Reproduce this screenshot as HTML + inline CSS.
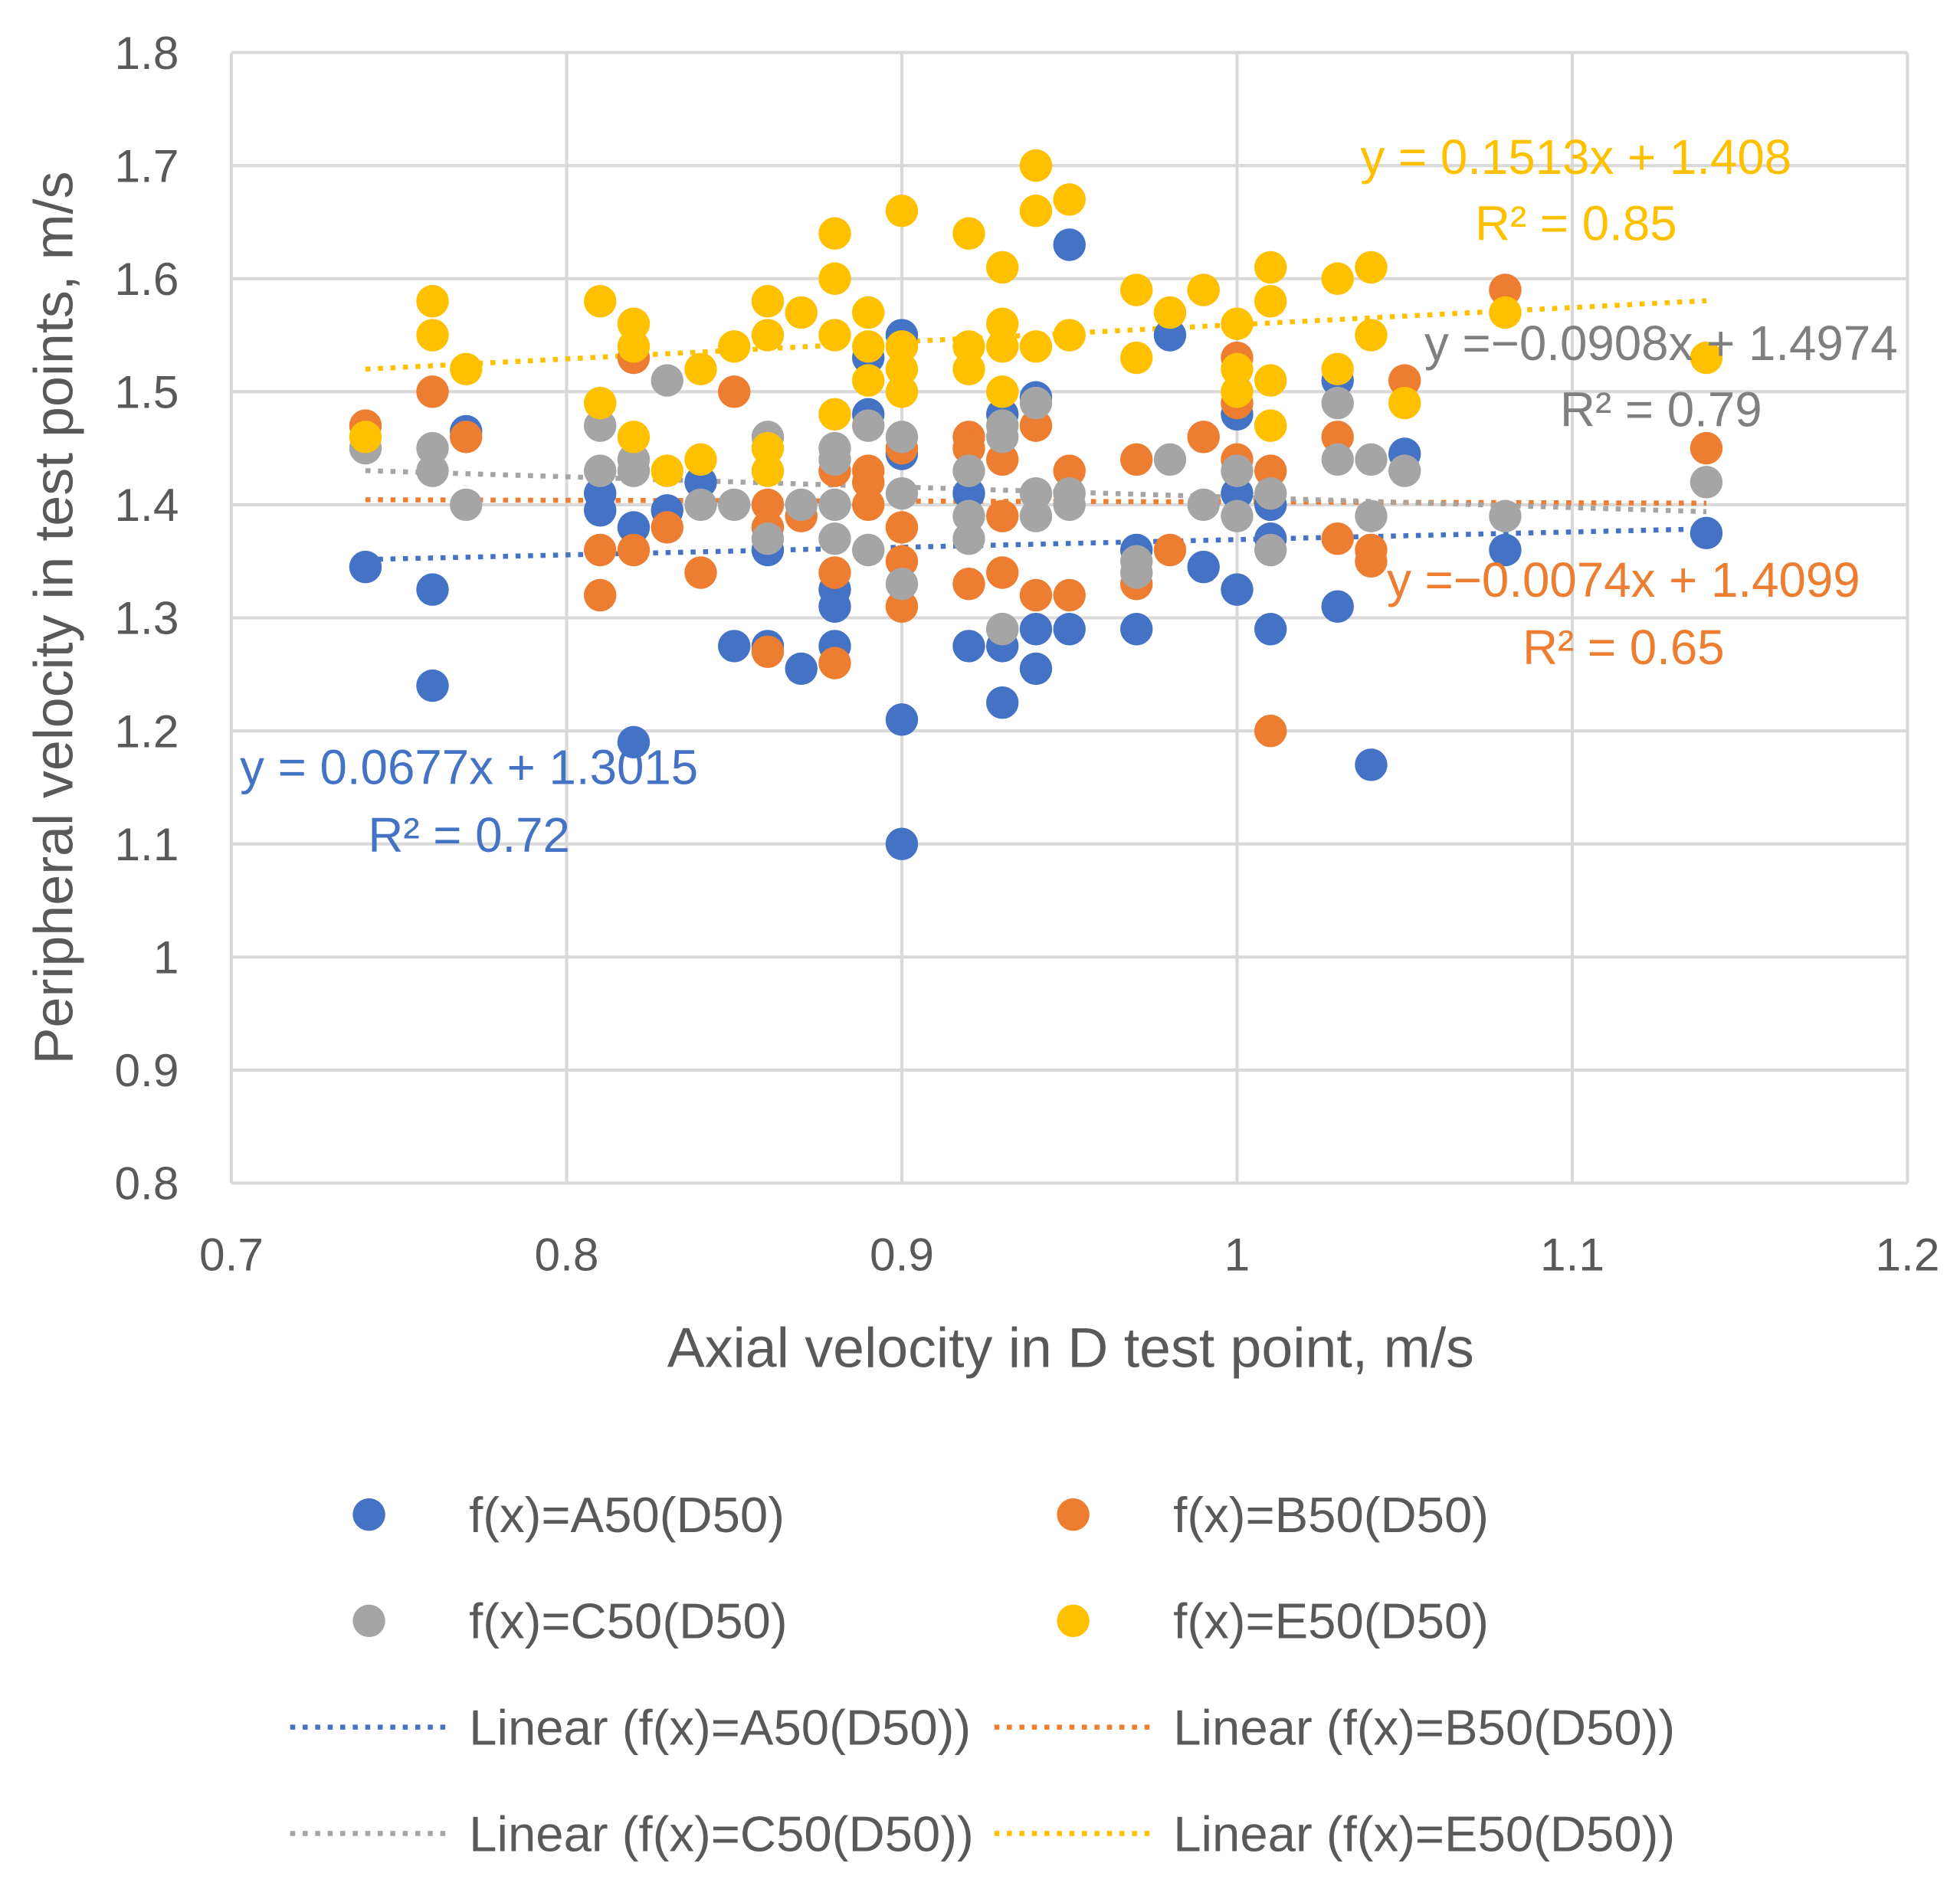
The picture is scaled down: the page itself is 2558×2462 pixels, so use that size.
<!DOCTYPE html>
<html><head><meta charset="utf-8"><style>
html,body{margin:0;padding:0;background:#fff;}
svg{display:block;font-family:"Liberation Sans",Calibri,sans-serif;}
</style></head><body>
<svg id="chart" width="2558" height="2462" viewBox="0 0 1567 1508" preserveAspectRatio="none" xmlns="http://www.w3.org/2000/svg">
<rect x="0" y="0" width="1567" height="1508" fill="#fff"/>
<g id="grid"></g>
<g id="trends"></g>
<g id="points"></g>
<g id="axes"></g>
<text x="856" y="1093" font-size="45" fill="#595959" text-anchor="middle">Axial velocity in D test point, m/s</text>
<text transform="translate(58,494) rotate(-90)" font-size="44" fill="#595959" text-anchor="middle">Peripheral velocity in test points, m/s</text>
<g font-size="39">
<text x="1260" y="139" fill="#FFC000" text-anchor="middle">y = 0.1513x + 1.408</text>
<text x="1260" y="192" fill="#FFC000" text-anchor="middle">R² = 0.85</text>
<text x="1328" y="288" fill="#7f7f7f" text-anchor="middle">y =−0.0908x + 1.4974</text>
<text x="1328" y="341" fill="#7f7f7f" text-anchor="middle">R² = 0.79</text>
<text x="1298" y="477" fill="#ED7D31" text-anchor="middle">y =−0.0074x + 1.4099</text>
<text x="1298" y="531" fill="#ED7D31" text-anchor="middle">R² = 0.65</text>
<text x="375" y="627" fill="#4472C4" text-anchor="middle">y = 0.0677x + 1.3015</text>
<text x="375" y="681" fill="#4472C4" text-anchor="middle">R² = 0.72</text>
</g>
<g id="legend" font-size="40" fill="#595959"></g>
</svg>
<script>
const xTicks=[0.7,0.8,0.9,1.0,1.1,1.2];
const xTickLabels=["0.7","0.8","0.9","1","1.1","1.2"];
const yTicks=[0.8,0.9,1.0,1.1,1.2,1.3,1.4,1.5,1.6,1.7,1.8];
const yTickLabels=["0.8","0.9","1","1.1","1.2","1.3","1.4","1.5","1.6","1.7","1.8"];
const seriesNames=["f(x)=A50(D50)","f(x)=B50(D50)","f(x)=C50(D50)","f(x)=E50(D50)"];
const seriesColors=["#4472C4","#ED7D31","#A5A5A5","#FFC000"];
const aX=[0.74,0.76,0.76,0.77,0.81,0.81,0.82,0.82,0.83,0.84,0.85,0.86,0.86,0.87,0.88,0.88,0.88,0.89,0.89,0.90,0.90,0.90,0.90,0.92,0.92,0.93,0.93,0.93,0.93,0.94,0.94,0.94,0.95,0.95,0.97,0.97,0.98,0.99,1.00,1.00,1.00,1.01,1.01,1.01,1.03,1.03,1.04,1.05,1.08,1.14];
const aY=[1.345,1.325,1.24,1.465,1.41,1.395,1.38,1.19,1.395,1.42,1.275,1.36,1.275,1.255,1.325,1.31,1.275,1.53,1.48,1.55,1.445,1.21,1.10,1.41,1.275,1.48,1.29,1.275,1.225,1.495,1.29,1.255,1.63,1.29,1.36,1.29,1.55,1.345,1.48,1.41,1.325,1.40,1.37,1.29,1.51,1.31,1.17,1.445,1.36,1.375];
const bX=[0.74,0.76,0.77,0.81,0.81,0.82,0.82,0.83,0.84,0.85,0.86,0.86,0.86,0.87,0.88,0.88,0.88,0.89,0.89,0.89,0.90,0.90,0.90,0.90,0.92,0.92,0.92,0.93,0.93,0.93,0.94,0.94,0.95,0.95,0.97,0.97,0.98,0.99,1.00,1.00,1.00,1.01,1.01,1.03,1.03,1.04,1.04,1.05,1.08,1.14];
const bY=[1.47,1.50,1.46,1.36,1.32,1.53,1.36,1.38,1.34,1.50,1.40,1.38,1.27,1.39,1.43,1.34,1.26,1.43,1.42,1.40,1.45,1.38,1.35,1.31,1.46,1.45,1.33,1.44,1.39,1.34,1.47,1.32,1.43,1.32,1.44,1.33,1.36,1.46,1.53,1.49,1.44,1.43,1.20,1.46,1.37,1.36,1.35,1.51,1.59,1.45];
const cX=[0.74,0.76,0.76,0.77,0.81,0.81,0.82,0.82,0.83,0.84,0.85,0.86,0.86,0.87,0.88,0.88,0.88,0.88,0.89,0.89,0.90,0.90,0.90,0.92,0.92,0.92,0.93,0.93,0.93,0.94,0.94,0.94,0.95,0.95,0.97,0.97,0.98,0.99,1.00,1.00,1.01,1.01,1.03,1.03,1.04,1.04,1.05,1.08,1.14];
const cY=[1.45,1.45,1.43,1.40,1.47,1.43,1.44,1.43,1.51,1.40,1.40,1.46,1.37,1.40,1.45,1.44,1.40,1.37,1.47,1.36,1.46,1.41,1.33,1.43,1.39,1.37,1.47,1.46,1.29,1.49,1.41,1.39,1.41,1.40,1.35,1.34,1.44,1.40,1.43,1.39,1.41,1.36,1.49,1.44,1.44,1.39,1.43,1.39,1.42];
const eX=[0.74,0.76,0.76,0.77,0.81,0.81,0.82,0.82,0.82,0.83,0.84,0.84,0.85,0.86,0.86,0.86,0.86,0.87,0.88,0.88,0.88,0.88,0.89,0.89,0.89,0.90,0.90,0.90,0.90,0.92,0.92,0.92,0.93,0.93,0.93,0.93,0.94,0.94,0.94,0.95,0.95,0.97,0.97,0.98,0.99,1.00,1.00,1.00,1.01,1.01,1.01,1.01,1.03,1.03,1.04,1.04,1.05,1.08,1.14];
const eY=[1.46,1.58,1.55,1.52,1.58,1.49,1.56,1.54,1.46,1.43,1.52,1.44,1.54,1.58,1.55,1.45,1.43,1.57,1.64,1.60,1.55,1.48,1.57,1.54,1.51,1.66,1.54,1.52,1.50,1.64,1.54,1.52,1.61,1.56,1.54,1.50,1.70,1.66,1.54,1.67,1.55,1.59,1.53,1.57,1.59,1.56,1.52,1.50,1.61,1.58,1.51,1.47,1.60,1.52,1.61,1.55,1.49,1.57,1.53];
const slopes=[0.0677,-0.0074,-0.0908,0.1513];
const intercepts=[1.3015,1.4099,1.4974,1.408];
const trendRange=[0.74,1.14];

const NS="http://www.w3.org/2000/svg";
const L=185,R=1525,T=42,B=946;
function sx(v){return L+(v-0.7)/0.5*(R-L);}
function sy(v){return B-(v-0.8)/1.0*(B-T);}
function mk(tag,attrs,parent){const e=document.createElementNS(NS,tag);for(const k in attrs)e.setAttribute(k,attrs[k]);parent.appendChild(e);return e;}
const grid=document.getElementById('grid'),axes=document.getElementById('axes');
xTicks.forEach((t,i)=>{
  const g=mk('line',{x1:sx(t),x2:sx(t),y1:T,y2:B,stroke:'#d9d9d9','stroke-width':2.5},grid);
  
  
  const tx=mk('text',{x:sx(t),y:B+70,'font-size':37,fill:'#595959','text-anchor':'middle'},axes);
  tx.textContent=xTickLabels[i];
  
  
});
yTicks.forEach((t,i)=>{
  const g=mk('line',{x1:L,x2:R,y1:sy(t),y2:sy(t),stroke:'#d9d9d9','stroke-width':2.5},grid);
  
  
  const tx=mk('text',{x:L-42,y:sy(t)+13,'font-size':37,fill:'#595959','text-anchor':'end'},axes);
  tx.textContent=yTickLabels[i];
  
  
});
const pts=document.getElementById('points'),trends=document.getElementById('trends');
const XS=[aX,bX,cX,eX],YS=[aY,bY,cY,eY];
for(let s=0;s<4;s++){
  for(let i=0;i<XS[s].length;i++){
    const c=mk('circle',{cx:sx(XS[s][i]),cy:sy(YS[s][i]),r:13,fill:seriesColors[s]},pts);
    
    
  }
}
const trendColors=["#4472C4","#ED7D31","#A5A5A5","#FFC000"];
for(let s=0;s<4;s++){
  const x0=trendRange[0],x1=trendRange[1];
  const ln=mk('line',{x1:sx(x0),y1:sy(slopes[s]*x0+intercepts[s]),x2:sx(x1),y2:sy(slopes[s]*x1+intercepts[s]),stroke:trendColors[s],'stroke-width':4,'stroke-dasharray':'4 6','stroke-linecap':'butt'},trends);
  
  
}
mk('line',{x1:L,x2:R,y1:B,y2:B,stroke:'#d9d9d9','stroke-width':2.5},axes);
const leg=document.getElementById('legend');
const legPos=[[295,1211],[858,1211],[295,1296],[858,1296]];
for(let s=0;s<4;s++){
  const [x,y]=legPos[s];
  const c=mk('circle',{cx:x,cy:y,r:13,fill:seriesColors[s]},leg);
  
  
  const t=mk('text',{x:x+80,y:y+14},leg);
  t.textContent=seriesNames[s];
  
  
  const ly=y+170, lx=x-63;
  const ln=mk('line',{x1:lx,x2:lx+125,y1:ly,y2:ly,stroke:trendColors[s],'stroke-width':4,'stroke-dasharray':'4 6'},leg);
  
  
  const t2=mk('text',{x:x+80,y:ly+14},leg);
  t2.textContent='Linear ('+seriesNames[s]+')';
  
  
}
</script>
</body></html>
